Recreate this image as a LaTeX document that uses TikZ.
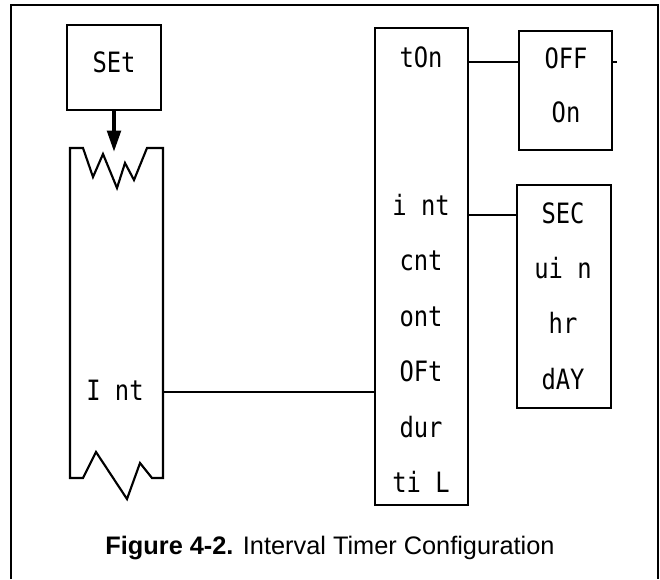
\documentclass[tikz,border=0pt]{standalone}
\usepackage{fontspec}
\setmainfont{Liberation Sans}
\newfontfamily\segfont[FakeStretch=0.85]{DejaVu Sans Mono}
\usetikzlibrary{positioning,arrows.meta}

\begin{document}
\begin{tikzpicture}[
  x=0.75pt, y=-0.75pt,
  line width=1.6pt,
  box/.style={draw, inner sep=0pt},
  seg/.style={font=\segfont\fontsize{21}{21}\selectfont, inner sep=0pt, text height=7.5pt, text depth=0pt},
  arr/.style={-{Triangle[length=16pt,width=10pt]}, line width=3pt}
]
\useasboundingbox (0,0) rectangle (660,579);
\draw (11,579) -- (11,5) -- (658,5) -- (658,579);

\node[box, minimum width=70.5pt, minimum height=63.75pt] (set) at (114,67.5) {};
\node[seg, anchor=base] (setlbl) at (114,72) {SEt};
\draw (70,148) -- (83,148) -- (93,177) -- (103,154) -- (117,188) -- (125,163) -- (134,180) -- (147,148) -- (163,148)
  -- (163,478) -- (152,478) -- (140,463) -- (127,499) -- (96,452) -- (83,478) -- (70,478) -- cycle;
\coordinate (stripin) at (114,152);
\coordinate (stripout) at (163,392);
\draw[arr] (set) -- (stripin);
\node[seg, anchor=base] (intlbl) at (115,400) {I nt};

\node[box, minimum width=69.75pt, minimum height=357.75pt] (menu) at (421.5,266.5) {};
\node[seg, anchor=base] (ton) at (421,67) {tOn};
\node[seg, below=102pt of ton] (int) {i nt};
\node[seg, below=32.5pt of int] (cnt) {cnt};
\node[seg, below=32.5pt of cnt] (ont) {ont};
\node[seg, below=32.5pt of ont] (oft) {OFt};
\node[seg, below=32.5pt of oft] (dur) {dur};
\node[seg, below=32.5pt of dur] (til) {ti L};

\node[box, minimum width=69.75pt, minimum height=89.25pt] (onoff) at (565.5,90.5) {};
\node[seg, anchor=base] (off) at (566,68) {OFF};
\node[seg, below=31.5pt of off] (on) {On};

\node[box, minimum width=70.5pt, minimum height=167.25pt] (unit) at (564,296.5) {};
\node[seg, anchor=base] (sec) at (563,223) {SEC};
\node[seg, below=32.5pt of sec] (min) {ui n};
\node[seg, below=32.5pt of min] (hr) {hr};
\node[seg, below=32.5pt of hr] (day) {dAY};

\coordinate (stub) at (617,62);
\draw (stripout) -- (stripout -| menu.west);
\draw (menu.east |- stub) -- (onoff.west |- stub);
\draw (onoff.east |- stub) -- (stub);
\draw (menu.east |- 0,215) -- (unit.west |- 0,215);

\node[font=\fontsize{19}{21}\selectfont, anchor=base] (cap) at (330,554) {\textbf{Figure 4-2.} Interval Timer Configuration};
\end{tikzpicture}
\end{document}
